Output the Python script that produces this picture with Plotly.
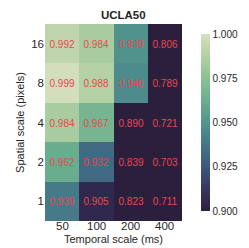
import numpy as np
import plotly.graph_objects as go

temporal = ["50", "100", "200", "400"]
spatial = ["1", "2", "4", "8", "16"]
# rows: spatial 1,2,4,8,16 ; cols: temporal 50,100,200,400
acc_1 = [0.939, 0.905, 0.823, 0.711]
acc_2 = [0.962, 0.932, 0.839, 0.703]
acc_4 = [0.984, 0.967, 0.890, 0.721]
acc_8 = [0.999, 0.988, 0.946, 0.789]
acc_16 = [0.992, 0.984, 0.949, 0.806]
z = [acc_1, acc_2, acc_4, acc_8, acc_16]

# seaborn cubehelix_palette(start=.5, rot=-.75, reverse=True)
def cubehelix(n=64, start=0.5, rot=-0.75, gamma=1.0, hue=0.8, light=0.85, dark=0.15):
    xs = np.linspace(dark, light, n)
    cols = []
    for x in xs:
        xg = x ** gamma
        a = hue * xg * (1 - xg) / 2
        phi = 2 * np.pi * (start / 3 + rot * x)
        r = xg + a * (-0.14861 * np.cos(phi) + 1.78277 * np.sin(phi))
        g = xg + a * (-0.29227 * np.cos(phi) - 0.90649 * np.sin(phi))
        b = xg + a * (1.97294 * np.cos(phi))
        c = [int(round(255 * min(1, max(0, v)))) for v in (r, g, b)]
        cols.append("rgb(%d,%d,%d)" % tuple(c))
    return [[i / (n - 1), c] for i, c in enumerate(cols)]

font = "Liberation Sans, Arial, sans-serif"
txt = "#262626"

fig = go.Figure(go.Heatmap(
    z=z, x=temporal, y=spatial,
    zmin=0.9, zmax=1.0,
    colorscale=cubehelix(),
    texttemplate="%{z:.3f}",
    textfont=dict(color="#e8474e", size=10, family=font),
    xgap=0, ygap=0,
    colorbar=dict(
        x=1.063, xanchor="left", y=0.5, yanchor="middle",
        len=1, lenmode="fraction", thickness=9, outlinewidth=0,
        tickvals=[0.9, 0.925, 0.95, 0.975, 1.0],
        ticktext=["0.900", "0.925", "0.950", "0.975", "1.000"],
        ticks="", tickfont=dict(size=10, color=txt, family=font),
    ),
))

annotations = []
for i, t in enumerate(temporal):
    annotations.append(dict(x=i, xref="x", y=0, yref="paper", yshift=-5,
                            yanchor="middle", xanchor="center", showarrow=False,
                            text=t, font=dict(size=11.5, color=txt, family=font)))
annotations.append(dict(x=0.5, xref="paper", y=0, yref="paper", yshift=-18,
                        yanchor="middle", xanchor="center", showarrow=False,
                        text="Temporal scale (ms)", font=dict(size=11, color=txt, family=font)))

fig.update_layout(
    width=249, height=248,
    margin=dict(l=37, r=54, t=16, b=35),
    paper_bgcolor="white", plot_bgcolor="white",
    font=dict(family=font, color=txt),
    title=dict(text="<b>UCLA50</b>", x=0.463, xanchor="center", y=0.99, yanchor="top",
               font=dict(size=11.5, color=txt, family=font)),
    xaxis=dict(type="category", range=[-0.5, len(temporal) - 0.5],
               showticklabels=False, ticks="", showgrid=False, zeroline=False),
    yaxis=dict(type="category",
               title=dict(text="Spatial scale (pixels)", font=dict(size=11), standoff=4),
               tickfont=dict(size=11.5), ticks="", ticklen=0, showgrid=False, zeroline=False),
    annotations=annotations,
)

fig.write_html("out.html")
